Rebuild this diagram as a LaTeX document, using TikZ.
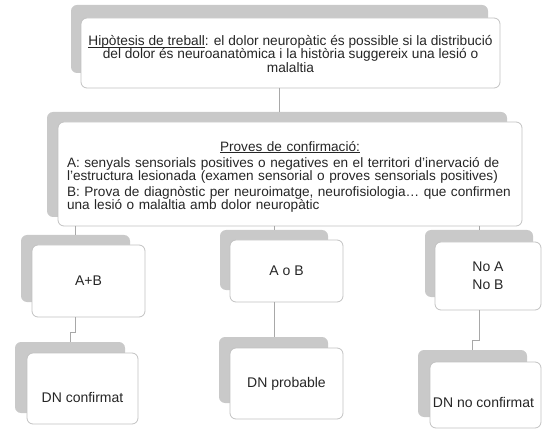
\documentclass[tikz,border=0pt]{standalone}
\usepackage{fontspec}
\setmainfont{Liberation Sans}
\definecolor{backgray}{HTML}{C9C9C9}
\definecolor{edgegray}{HTML}{C2C2C2}
\definecolor{linkgray}{HTML}{A8A8A8}
\definecolor{ink}{HTML}{262626}
% underline drawn as a rule just below the baseline
\newcommand\ulined[1]{\setbox0\hbox{#1}\rlap{\rule[-1.6pt]{\wd0}{0.6pt}}\box0}
\tikzset{
  backbox/.style={fill=backgray, rounded corners=6pt, anchor=north west,
    inner sep=0pt, outer sep=0pt},
  frontbox/.style={fill=white, draw=edgegray, line width=0.8pt, rounded corners=6pt,
    anchor=north west, inner sep=0pt, outer sep=0pt, text=ink},
  toptext/.style={font=\fontsize{13.7}{13.3}\selectfont},
  midtext/.style={font=\fontsize{13.6}{13.2}\selectfont},
  smalltext/.style={font=\fontsize{14}{18}\selectfont, align=center},
  link/.style={draw=linkgray, line width=1pt}
}
\begin{document}
\begin{tikzpicture}[x=1pt, y=-1pt]
\useasboundingbox (0,0) rectangle (543,430);

% hypothesis
\node[backbox, minimum width=417pt, minimum height=68pt] (hypback) at (71,5) {};
\node[frontbox, toptext, align=center, minimum width=419pt, minimum height=70pt] (hyp) at (81,18)
  {\rule{0pt}{12pt}\ulined{Hipòtesis de treball}: el dolor neuropàtic és possible si la distribució\\
   del dolor és neuroanatòmica i la història suggereix una lesió o\\
   malaltia};

% confirmation tests
\node[backbox, minimum width=460pt, minimum height=105pt] (provesback) at (47,112) {};
\node[frontbox, midtext, align=left, text width=446pt, minimum width=464pt, minimum height=104pt] (proves) at (58,122)
  {\rule{0pt}{16pt}\makebox[\linewidth][c]{\ulined{Proves de confirmació:}}\\[2.5pt]
   A: senyals sensorials positives o negatives en el territori d'inervació de\\
   l'estructura lesionada (examen sensorial o proves sensorials positives)\\[3pt]
   B: Prova de diagnòstic per neuroimatge, neurofisiologia… que confirmen\\
   una lesió o malaltia amb dolor neuropàtic};

% outcomes
\node[backbox, minimum width=109pt, minimum height=67pt] (abback) at (21,235) {};
\node[frontbox, smalltext, minimum width=113pt, minimum height=72pt] (ab) at (32,245) {A+B};

\node[backbox, minimum width=108pt, minimum height=60pt] (aobback) at (220,230) {};
\node[frontbox, smalltext, minimum width=113pt, minimum height=62pt] (aob) at (230,240) {A o B};

\node[backbox, minimum width=108pt, minimum height=67pt] (nabback) at (425,230) {};
\node[frontbox, smalltext, minimum width=106pt, minimum height=68pt] (nab) at (435,242) {No A\\No B};

% diagnoses
\node[backbox, minimum width=110pt, minimum height=71pt] (dncback) at (15,342) {};
\node[frontbox, minimum width=111pt, minimum height=71pt,
  label={[name=dnctext, smalltext, text=ink, yshift=-8.5pt]center:DN confirmat}] (dnc) at (27,353) {};

\node[backbox, minimum width=109pt, minimum height=66pt] (dnpback) at (219,337) {};
\node[frontbox, smalltext, minimum width=113pt, minimum height=71pt] (dnp) at (230,348) {DN probable};

\node[backbox, minimum width=109pt, minimum height=67pt] (dnnback) at (418,350) {};
\node[frontbox, minimum width=111pt, minimum height=66pt,
  label={[name=dnntext, smalltext, text=ink, yshift=-7pt, xshift=-2pt]center:DN no confirmat}] (dnn) at (430,362) {};

% jog levels of the lower connectors
\coordinate (jogL) at (0,332);
\coordinate (jogR) at (0,340);

% connectors
\draw[link] (hyp.south -| hypback.south) -- (hypback.south |- provesback.north);
\draw[link] (abback.north |- proves.south) -- (abback.north);
\draw[link] (aobback.north |- proves.south) -- (aobback.north);
\draw[link] (nabback.north |- proves.south) -- (nabback.north);
\draw[link] (abback.south |- ab.south) -- (abback.south |- jogL) -| (dncback.north);
\draw[link] (aobback.south |- aob.south) -- (aobback.south |- dnpback.north);
\draw[link] (nabback.south |- nab.south) -- (nabback.south |- jogR) -| (dnnback.north);
\end{tikzpicture}
\end{document}
